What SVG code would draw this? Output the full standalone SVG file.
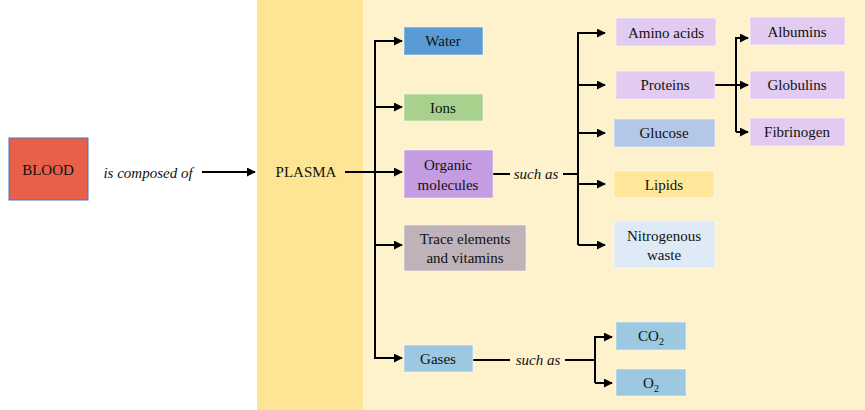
<svg xmlns="http://www.w3.org/2000/svg" width="865" height="410" viewBox="0 0 865 410">
<style>
text{font-family:"Liberation Serif",serif;font-size:15px;fill:#111;text-anchor:middle}
.it{font-style:italic}
.b{stroke:#fff;stroke-opacity:0.5;stroke-width:1}
.c{fill:none;stroke:#000;stroke-width:2}
</style>
<defs><marker id="a" viewBox="0 0 10 10" refX="9" refY="5" markerWidth="4.5" markerHeight="4.5" orient="auto"><path d="M0,0L10,5L0,10z" fill="#000"/></marker></defs>
<rect width="865" height="410" fill="#fff"/>
<rect x="257" y="0" width="106" height="410" fill="#FDE594"/>
<rect x="363" y="0" width="502" height="410" fill="#FEF2CC"/>
<g id="connectors" class="c">
<path d="M202,172H255" marker-end="url(#a)"/>
<path d="M345,172H402" marker-end="url(#a)"/>
<path d="M375,359V41H402" marker-end="url(#a)"/>
<path d="M375,107H402" marker-end="url(#a)"/>
<path d="M375,245H402" marker-end="url(#a)"/>
<path d="M375,358H402" marker-end="url(#a)"/>
<path d="M493,174H510M563,174H578"/>
<path d="M578,245V33H605" marker-end="url(#a)"/>
<path d="M578,85H605" marker-end="url(#a)"/>
<path d="M578,133H605" marker-end="url(#a)"/>
<path d="M578,184H605" marker-end="url(#a)"/>
<path d="M578,245H605" marker-end="url(#a)"/>
<path d="M715,85H748" marker-end="url(#a)"/>
<path d="M736,132V38H748" marker-end="url(#a)"/>
<path d="M736,132H748" marker-end="url(#a)"/>
<path d="M473,360H510M565,360H595"/>
<path d="M595,383V337H612" marker-end="url(#a)"/>
<path d="M595,383H612" marker-end="url(#a)"/>
</g>
<text class="it" x="148" y="178">is composed of</text>
<text class="it" x="536" y="179">such as</text>
<text class="it" x="538" y="365">such as</text>
<g id="blood"><rect x="9" y="138" width="79" height="62" fill="#E8604A" stroke="#4472C4"/><text x="48" y="175">BLOOD</text></g>
<g id="plasma"><text x="306" y="177">PLASMA</text></g>
<g id="water"><rect class="b" x="404" y="27" width="79" height="28" fill="#5B9BD5"/><text x="443" y="46">Water</text></g>
<g id="ions"><rect class="b" x="404" y="94" width="79" height="27" fill="#A9D18E"/><text x="443" y="113">Ions</text></g>
<g id="organic"><rect class="b" x="404" y="150" width="89" height="48" fill="#C49CE2"/><text x="448" y="170">Organic</text><text x="448" y="190">molecules</text></g>
<g id="trace"><rect class="b" x="404" y="225" width="122" height="46" fill="#BFB2B8"/><text x="465" y="244">Trace elements</text><text x="465" y="263">and vitamins</text></g>
<g id="gases"><rect class="b" x="404" y="345" width="69" height="27" fill="#9DC8E2"/><text x="438" y="364">Gases</text></g>
<g id="amino"><rect class="b" x="616" y="18" width="100" height="28" fill="#E2CBF0"/><text x="666" y="38">Amino acids</text></g>
<g id="proteins"><rect class="b" x="616" y="71" width="99" height="28" fill="#E2CBF0"/><text x="665" y="90">Proteins</text></g>
<g id="glucose"><rect class="b" x="614" y="119" width="101" height="28" fill="#B4C7E7"/><text x="664" y="138">Glucose</text></g>
<g id="lipids"><rect class="b" x="614" y="171" width="100" height="27" fill="#FFE699"/><text x="664" y="190">Lipids</text></g>
<g id="nitro"><rect class="b" x="614" y="221" width="101" height="47" fill="#DEEBF7"/><text x="664" y="241">Nitrogenous</text><text x="664" y="260">waste</text></g>
<g id="albumins"><rect class="b" x="750" y="17" width="95" height="28" fill="#E2CBF0"/><text x="797" y="37">Albumins</text></g>
<g id="globulins"><rect class="b" x="750" y="71" width="95" height="28" fill="#E2CBF0"/><text x="797" y="90">Globulins</text></g>
<g id="fibrinogen"><rect class="b" x="750" y="118" width="95" height="28" fill="#E2CBF0"/><text x="797" y="137">Fibrinogen</text></g>
<g id="co2"><rect class="b" x="616" y="322" width="70" height="28" fill="#9DC8E2"/><text x="651" y="341">CO<tspan font-size="10" dy="4">2</tspan></text></g>
<g id="o2"><rect class="b" x="616" y="369" width="70" height="27" fill="#9DC8E2"/><text x="651" y="388">O<tspan font-size="10" dy="4">2</tspan></text></g>
</svg>
